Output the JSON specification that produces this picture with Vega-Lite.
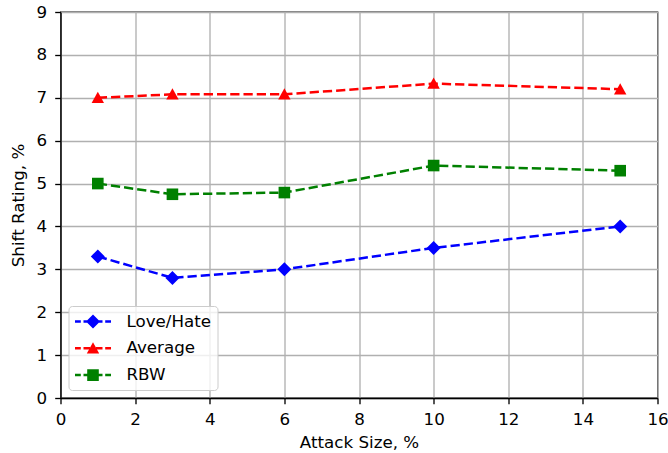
{
  "$schema": "https://vega.github.io/schema/vega-lite/v6.json",
  "width": 597,
  "height": 386,
  "autosize": {"type": "none"},
  "padding": {"left": 60.5, "top": 12, "right": 10.5, "bottom": 55},
  "background": "white",
  "config": {
    "font": "DejaVu Sans",
    "view": {"stroke": "black", "strokeWidth": 1.33},
    "axis": {
      "domainColor": "black",
      "domainWidth": 1.33,
      "tickColor": "black",
      "tickWidth": 1.33,
      "tickSize": 5.8,
      "gridColor": "#b0b0b0",
      "gridWidth": 1.33,
      "labelFont": "DejaVu Sans",
      "labelFontSize": 16.7,
      "labelColor": "black",
      "labelPadding": 8,
      "labelFlush": false,
      "labelOverlap": false,
      "titleFont": "DejaVu Sans",
      "titleFontSize": 16.7,
      "titleFontWeight": "normal",
      "titleColor": "black"
    }
  },
  "data": {
    "values": [
      {"x": 1, "y": 3.3, "series": "Love/Hate"},
      {"x": 3, "y": 2.8, "series": "Love/Hate"},
      {"x": 6, "y": 3.0, "series": "Love/Hate"},
      {"x": 10, "y": 3.5, "series": "Love/Hate"},
      {"x": 15, "y": 4.0, "series": "Love/Hate"},
      {"x": 1, "y": 7.0, "series": "Average"},
      {"x": 3, "y": 7.08, "series": "Average"},
      {"x": 6, "y": 7.08, "series": "Average"},
      {"x": 10, "y": 7.33, "series": "Average"},
      {"x": 15, "y": 7.2, "series": "Average"},
      {"x": 1, "y": 5.0, "series": "RBW"},
      {"x": 3, "y": 4.75, "series": "RBW"},
      {"x": 6, "y": 4.79, "series": "RBW"},
      {"x": 10, "y": 5.42, "series": "RBW"},
      {"x": 15, "y": 5.3, "series": "RBW"}
    ]
  },
  "encoding": {
    "x": {
      "field": "x",
      "type": "quantitative",
      "scale": {"domain": [0, 16], "nice": false, "zero": false},
      "axis": {"title": "Attack Size, %", "values": [0, 2, 4, 6, 8, 10, 12, 14, 16], "titlePadding": 6}
    },
    "y": {
      "field": "y",
      "type": "quantitative",
      "scale": {"domain": [0, 9], "nice": false, "zero": false},
      "axis": {"title": "Shift Rating, %", "values": [0, 1, 2, 3, 4, 5, 6, 7, 8, 9], "titlePadding": 9}
    }
  },
  "layer": [
    {
      "mark": {"type": "line", "strokeDash": [9.25, 4], "strokeWidth": 2.5},
      "encoding": {
        "color": {
          "field": "series",
          "type": "nominal",
          "scale": {"domain": ["Love/Hate", "Average", "RBW"], "range": ["#0000ff", "#ff0000", "#008000"]},
          "legend": null
        }
      }
    },
    {
      "mark": {"type": "point", "filled": true, "opacity": 1, "size": 400, "strokeWidth": 0},
      "encoding": {
        "color": {
          "field": "series",
          "type": "nominal",
          "scale": {"domain": ["Love/Hate", "Average", "RBW"], "range": ["#0000ff", "#ff0000", "#008000"]},
          "legend": null
        },
        "shape": {
          "field": "series",
          "type": "nominal",
          "scale": {
            "domain": ["Love/Hate", "Average", "RBW"],
            "range": [
              "M0,-0.7L0.7,0L0,0.7L-0.7,0Z",
              "M0,-0.6L0.62,0.52L-0.62,0.52Z",
              "M-0.58,-0.58H0.58V0.58H-0.58Z"
            ]
          },
          "legend": null
        }
      }
    },
    {
      "transform": [{"filter": "false"}],
      "mark": {"type": "point", "filled": true, "opacity": 1, "size": 400, "strokeWidth": 0},
      "encoding": {
        "color": {
          "field": "series",
          "type": "nominal",
          "scale": {"domain": ["Love/Hate", "Average", "RBW"], "range": ["#0000ff", "#ff0000", "#008000"]},
          "legend": {
            "orient": "bottom-left",
            "offset": 8,
            "title": null,
            "padding": 5.5,
            "rowPadding": 7.8,
            "symbolOffset": 9,
            "labelOffset": 23.5,
            "symbolSize": 400,
            "symbolStrokeWidth": 0,
            "symbolOpacity": 1,
            "labelFont": "DejaVu Sans",
            "labelFontSize": 16.7,
            "labelColor": "black",
            "fillColor": "rgba(255,255,255,0.8)",
            "strokeColor": "#cccccc",
            "cornerRadius": 3.5
          }
        },
        "shape": {
          "field": "series",
          "type": "nominal",
          "scale": {
            "domain": ["Love/Hate", "Average", "RBW"],
            "range": [
              "M-1.8,-0.125H-1.22V0.125H-1.8Z M-0.95,-0.125H-0.3V0.125H-0.95Z M0.3,-0.125H0.95V0.125H0.3Z M1.22,-0.125H1.8V0.125H1.22Z M0,-0.7L0.7,0L0,0.7L-0.7,0Z",
              "M-1.8,-0.125H-1.22V0.125H-1.8Z M-0.95,-0.125H-0.3V0.125H-0.95Z M0.3,-0.125H0.95V0.125H0.3Z M1.22,-0.125H1.8V0.125H1.22Z M0,-0.6L0.62,0.52L-0.62,0.52Z",
              "M-1.8,-0.125H-1.22V0.125H-1.8Z M-0.95,-0.125H-0.3V0.125H-0.95Z M0.3,-0.125H0.95V0.125H0.3Z M1.22,-0.125H1.8V0.125H1.22Z M-0.58,-0.58H0.58V0.58H-0.58Z"
            ]
          },
          "legend": {
            "orient": "bottom-left",
            "offset": 8,
            "title": null,
            "padding": 5.5,
            "rowPadding": 7.8,
            "symbolOffset": 9,
            "labelOffset": 23.5,
            "symbolSize": 400,
            "symbolStrokeWidth": 0,
            "symbolOpacity": 1,
            "labelFont": "DejaVu Sans",
            "labelFontSize": 16.7,
            "labelColor": "black",
            "fillColor": "rgba(255,255,255,0.8)",
            "strokeColor": "#cccccc",
            "cornerRadius": 3.5
          }
        }
      }
    }
  ],
  "resolve": {"scale": {"color": "independent", "shape": "independent"}}
}
